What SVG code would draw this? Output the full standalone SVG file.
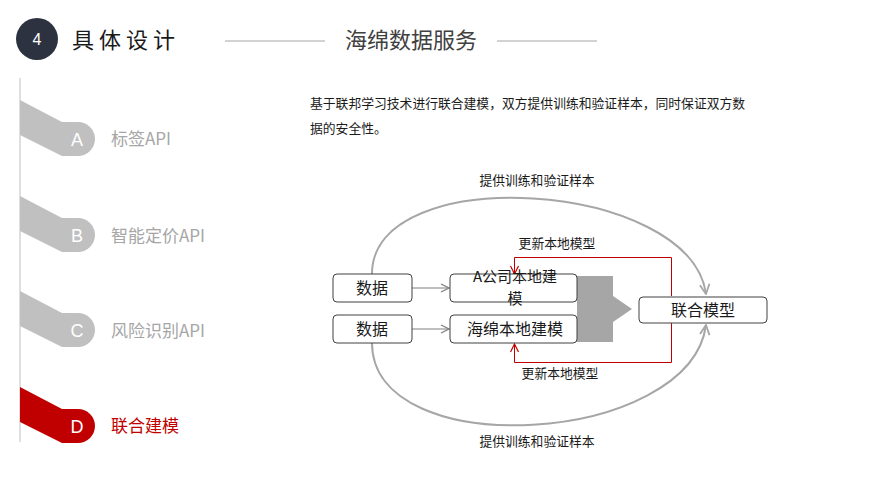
<svg xmlns="http://www.w3.org/2000/svg" width="873" height="488" viewBox="0 0 873 488">
<defs>
<style>
text{font-family:"Noto Sans CJK SC","Liberation Sans",sans-serif}
.tab{fill:#c0c0c0}
.tabr{fill:#c00000}
.let{fill:#fff;font-family:"Liberation Sans","Noto Sans CJK SC",sans-serif;font-size:18px;text-anchor:middle}
.lab{fill:#a6a6a6;font-size:17px}
.box{fill:#fff;stroke:#404040;stroke-width:1}
.bt{font-size:16px;fill:#1a1a1a;text-anchor:middle}
.small{font-size:12.8px;fill:#1a1a1a;text-anchor:middle}
.gray{fill:none;stroke:#a6a6a6;stroke-width:2}
.ga{fill:none;stroke:#7f7f7f;stroke-width:1}
.red{fill:none;stroke:#c00000;stroke-width:1}
</style>
<marker id="ah" viewBox="0 0 10 10" refX="9" refY="5" markerWidth="10" markerHeight="10" markerUnits="userSpaceOnUse" orient="auto">
<path d="M1,1 L9,5 L1,9" fill="none" stroke="#7f7f7f" stroke-width="1.2"/>
</marker>
<marker id="ahg" viewBox="0 0 10 10" refX="9" refY="5" markerWidth="12" markerHeight="12" markerUnits="userSpaceOnUse" orient="auto">
<path d="M1,1 L9,5 L1,9" fill="none" stroke="#a6a6a6" stroke-width="1.5"/>
</marker>
<marker id="ahr" viewBox="0 0 10 10" refX="9" refY="5" markerWidth="10" markerHeight="10" markerUnits="userSpaceOnUse" orient="auto">
<path d="M1,1 L9,5 L1,9" fill="none" stroke="#c00000" stroke-width="1.2"/>
</marker>
</defs>
<rect width="873" height="488" fill="#fff"/>

<g id="header">
<circle cx="37" cy="39" r="21" fill="#2d3240"/>
<text x="37" y="45" fill="#fff" font-size="16" text-anchor="middle" style="font-family:'Liberation Sans',sans-serif">4</text>
<text x="72" y="48" font-size="22" letter-spacing="5" fill="#1a1a1a">具体设计</text>
<line x1="225" y1="41" x2="325" y2="41" stroke="#a6a6a6" stroke-width="1"/>
<text x="411" y="48" font-size="22" fill="#404040" text-anchor="middle">海绵数据服务</text>
<line x1="497" y1="41" x2="597" y2="41" stroke="#a6a6a6" stroke-width="1"/>
</g>

<line x1="20" y1="78" x2="20" y2="442" stroke="#bfbfbf" stroke-width="1"/>

<g id="tabA">
<path class="tab" d="M20,100 L62,122 L78,122 A17,17 0 0 1 78,156 L62,156 L20,135 Z"/>
<text class="let" x="77" y="146">A</text>
<text class="lab" x="111" y="145">标签API</text>
</g>
<g id="tabB">
<path class="tab" d="M20,196 L62,218 L78,218 A17,17 0 0 1 78,252 L62,252 L20,231 Z"/>
<text class="let" x="77" y="242">B</text>
<text class="lab" x="111" y="242">智能定价API</text>
</g>
<g id="tabC">
<path class="tab" d="M20,291 L62,313 L78,313 A17,17 0 0 1 78,347 L62,347 L20,326 Z"/>
<text class="let" x="77" y="337">C</text>
<text class="lab" x="111" y="337">风险识别API</text>
</g>
<g id="tabD">
<path class="tabr" d="M20,387 L62,409 L78,409 A17,17 0 0 1 78,443 L62,443 L20,422 Z"/>
<text class="let" x="77" y="433">D</text>
<text class="lab" x="111" y="432" style="fill:#c00000">联合建模</text>
</g>

<g id="desc">
<text x="310" y="108" font-size="12.8" fill="#1a1a1a">基于联邦学习技术进行联合建模，双方提供训练和验证样本，同时保证双方数</text>
<text x="310" y="133" font-size="12.8" fill="#1a1a1a">据的安全性。</text>
</g>

<g id="connectors">
<path class="gray" d="M372,274 C372,160 690,180 706,294" marker-end="url(#ahg)"/>
<path class="gray" d="M372,343 C372,465 690,445 706,325" marker-end="url(#ahg)"/>
<line class="ga" x1="412" y1="288" x2="449" y2="288" marker-end="url(#ah)"/>
<line class="ga" x1="412" y1="329" x2="449" y2="329" marker-end="url(#ah)"/>
<path class="red" d="M671.5,296 L671.5,257.5 L514.5,257.5 L514.5,274" marker-end="url(#ahr)"/>
<path class="red" d="M671.5,323 L671.5,362.5 L514.5,362.5 L514.5,344" marker-end="url(#ahr)"/>
<path d="M577,276 L613,276 L613,296 L632,309 L613,322 L613,342 L577,342 Z" fill="#a6a6a6"/>
<text class="small" x="537" y="185">提供训练和验证样本</text>
<text class="small" x="537" y="446">提供训练和验证样本</text>
<text class="small" x="557" y="248">更新本地模型</text>
<text class="small" x="560" y="378">更新本地模型</text>
</g>

<g id="data1">
<rect class="box" x="333" y="274" width="79" height="28" rx="4"/>
<text class="bt" x="372" y="294">数据</text>
</g>
<g id="data2">
<rect class="box" x="333" y="315" width="79" height="28" rx="4"/>
<text class="bt" x="372" y="335">数据</text>
</g>
<g id="nodeA">
<rect class="box" x="450" y="274" width="127" height="28" rx="4"/>
<text class="bt" x="515" y="282" style="font-size:15px">A公司本地建</text>
<text class="bt" x="515" y="304" style="font-size:15px">模</text>
</g>
<g id="nodeSponge">
<rect class="box" x="450" y="315" width="127" height="28" rx="4"/>
<text class="bt" x="515" y="335">海绵本地建模</text>
</g>
<g id="nodeJoint">
<rect class="box" x="639" y="297" width="128" height="26" rx="4"/>
<text class="bt" x="703" y="316">联合模型</text>
</g>
</svg>
